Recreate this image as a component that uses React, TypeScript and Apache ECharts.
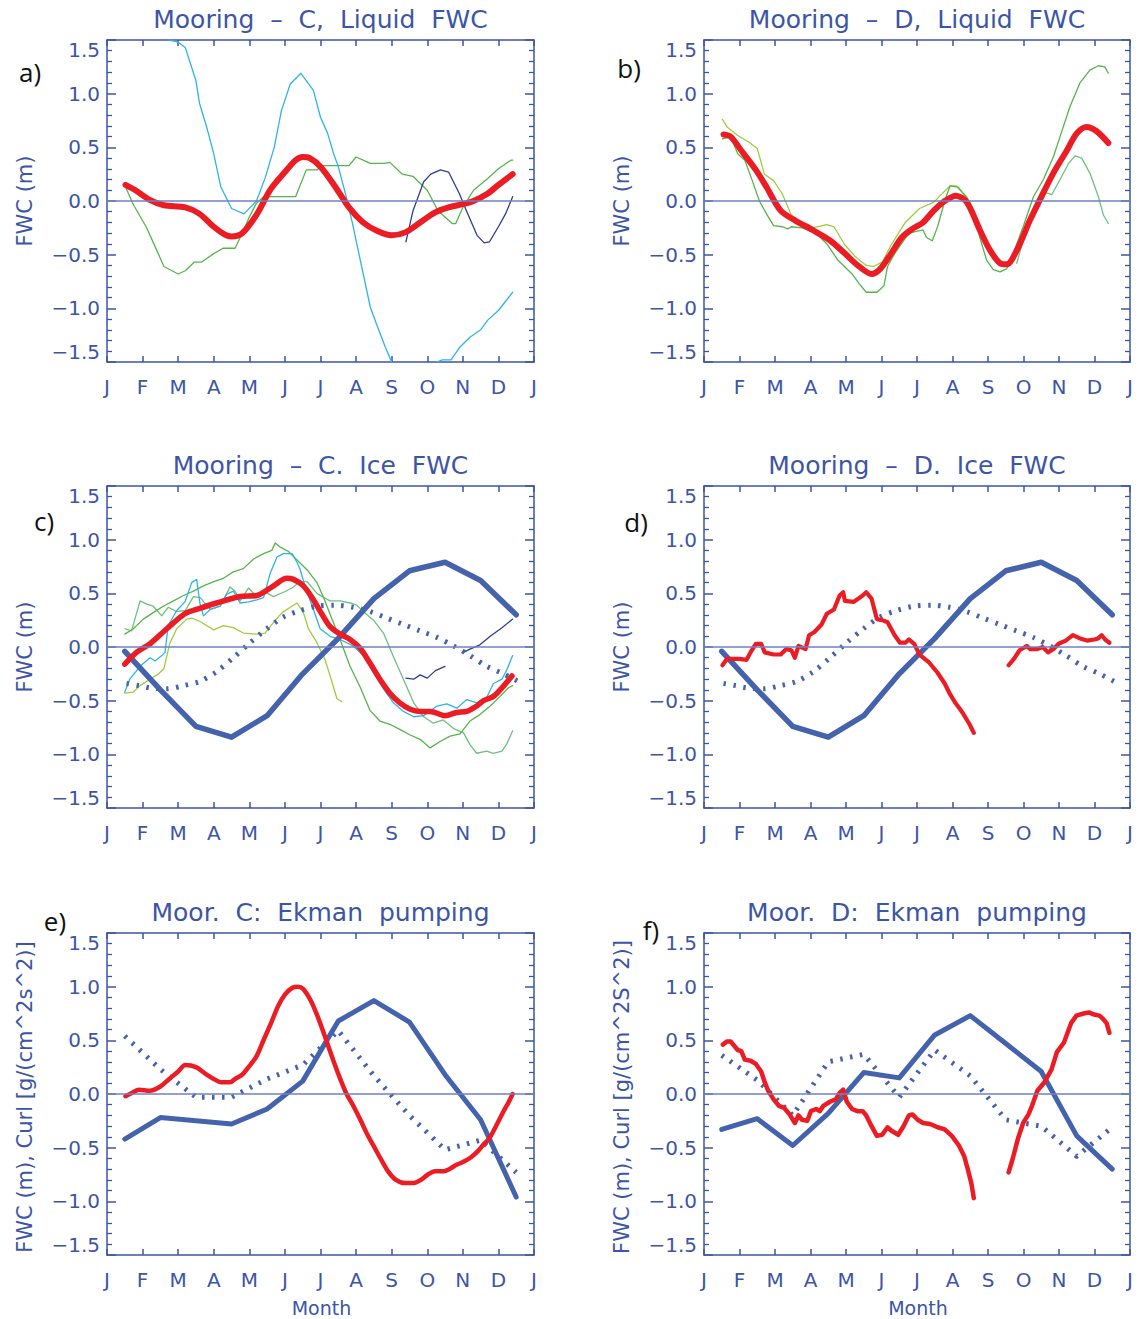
import React, { useEffect, useRef } from "react";
import * as echarts from "echarts";

// ---------- tick labels ----------
const MONTH_LABELS = ["J", "F", "M", "A", "M", "J", "J", "A", "S", "O", "N", "D", "J"];
const MONTH_POS = [0.5, 1.5, 2.5, 3.5, 4.5, 5.5, 6.5, 7.5, 8.5, 9.5, 10.5, 11.5];

// ---------- panel a: Mooring C liquid FWC ----------
const aRed = [[0.52,0.15],[0.8,0.1],[1.2,0.01],[1.6,-0.04],[2.2,-0.06],[2.6,-0.12],[3.0,-0.24],[3.3,-0.31],[3.5,-0.33],[3.8,-0.3],[4.2,-0.13],[4.6,0.11],[5.0,0.27],[5.3,0.38],[5.5,0.41],[5.7,0.4],[6.0,0.32],[6.4,0.14],[6.8,-0.06],[7.2,-0.2],[7.6,-0.28],[8.0,-0.32],[8.4,-0.29],[8.8,-0.2],[9.2,-0.11],[9.6,-0.06],[10.0,-0.03],[10.3,0.0],[10.7,0.07],[11.0,0.15],[11.4,0.25]];
const aCyan = [[1.6,1.56],[1.75,1.5],[2.0,1.48],[2.2,1.43],[2.5,1.12],[2.6,0.91],[2.8,0.69],[3.0,0.44],[3.2,0.13],[3.5,-0.07],[3.85,-0.12],[4.2,0.0],[4.45,0.22],[4.7,0.5],[4.9,0.84],[5.15,1.09],[5.45,1.19],[5.8,1.03],[6.0,0.78],[6.2,0.63],[6.37,0.44],[6.5,0.32],[6.7,0.07],[6.9,-0.21],[7.2,-0.68],[7.4,-0.99],[7.6,-1.17],[7.82,-1.36],[8.0,-1.5],[8.3,-1.65],[8.9,-1.75],[9.27,-1.5],[9.42,-1.48],[9.67,-1.48],[9.92,-1.36],[10.2,-1.27],[10.5,-1.2],[10.7,-1.11],[11.0,-1.02],[11.4,-0.85]];
const aGreen = [[0.52,0.13],[0.75,-0.04],[1.1,-0.24],[1.4,-0.46],[1.6,-0.61],[2.0,-0.68],[2.2,-0.65],[2.45,-0.57],[2.65,-0.57],[3.0,-0.49],[3.26,-0.44],[3.6,-0.44],[3.8,-0.3],[4.0,-0.15],[4.2,-0.02],[4.4,0.04],[5.3,0.04],[5.6,0.29],[5.9,0.29],[6.07,0.33],[6.8,0.33],[7.0,0.41],[7.4,0.35],[7.8,0.35],[7.95,0.36],[8.3,0.25],[8.6,0.23],[9.0,0.1],[9.3,-0.09],[9.7,-0.21],[9.8,-0.21],[10.0,-0.06],[10.3,0.1],[10.7,0.21],[11.0,0.3],[11.35,0.38],[11.4,0.38]];
const aNavy = [[8.4,-0.38],[8.6,-0.09],[8.9,0.18],[9.1,0.25],[9.37,0.29],[9.6,0.27],[9.9,0.07],[10.1,-0.09],[10.4,-0.32],[10.6,-0.39],[10.75,-0.38],[11.0,-0.24],[11.2,-0.12],[11.4,0.04]];

// ---------- panel b: Mooring D liquid FWC ----------
const bRed = [[0.55,0.62],[0.75,0.6],[1.05,0.47],[1.46,0.29],[1.76,0.13],[2.16,-0.09],[2.56,-0.18],[3.06,-0.27],[3.56,-0.37],[3.97,-0.49],[4.37,-0.61],[4.72,-0.68],[4.97,-0.63],[5.27,-0.49],[5.57,-0.34],[5.87,-0.26],[6.17,-0.2],[6.47,-0.09],[6.78,0.0],[7.1,0.05],[7.4,-0.01],[7.77,-0.27],[8.06,-0.46],[8.34,-0.58],[8.53,-0.59],[8.81,-0.46],[9.18,-0.18],[9.46,0.01],[9.84,0.26],[10.22,0.47],[10.5,0.63],[10.78,0.69],[11.06,0.65],[11.39,0.54]];
const bGreen = [[0.52,0.58],[0.75,0.6],[0.95,0.44],[1.15,0.38],[1.36,0.19],[1.56,0.0],[1.76,-0.12],[1.96,-0.23],[2.21,-0.24],[2.36,-0.26],[2.46,-0.24],[2.76,-0.25],[3.16,-0.3],[3.46,-0.4],[3.77,-0.55],[4.17,-0.68],[4.37,-0.77],[4.57,-0.85],[4.87,-0.85],[5.07,-0.79],[5.17,-0.61],[5.37,-0.49],[5.77,-0.3],[6.17,-0.27],[6.27,-0.34],[6.43,-0.37],[6.58,-0.24],[6.78,0.0],[6.93,0.14],[7.16,0.13],[7.4,0.03],[7.59,-0.12],[7.77,-0.34],[7.96,-0.55],[8.15,-0.64],[8.34,-0.66],[8.53,-0.63],[8.71,-0.49],[8.99,-0.24],[9.28,0.04],[9.56,0.2],[9.84,0.41],[10.03,0.6],[10.31,0.88],[10.59,1.1],[10.87,1.22],[11.11,1.26],[11.29,1.25],[11.39,1.19]];
const bYellow = [[0.52,0.76],[0.65,0.69],[0.95,0.61],[1.26,0.55],[1.5,0.49],[1.7,0.25],[1.96,0.19],[2.2,0.07],[2.46,-0.13],[2.76,-0.21],[3.06,-0.25],[3.46,-0.22],[3.66,-0.24],[3.97,-0.41],[4.27,-0.52],[4.57,-0.6],[4.77,-0.61],[5.02,-0.57],[5.27,-0.41],[5.67,-0.2],[6.07,-0.07],[6.48,-0.01],[6.65,0.05],[6.93,0.14],[7.1,0.14],[7.4,0.04],[7.6,-0.09]];
const bTeal = [[8.81,-0.58],[9.1,-0.24],[9.37,0.0],[9.56,0.08],[9.7,0.07],[9.8,0.06],[10.03,0.2],[10.27,0.35],[10.45,0.42],[10.64,0.4],[10.87,0.26],[11.11,0.04],[11.25,-0.13],[11.39,-0.21]];

// ---------- panels c, d: ice FWC (shared blue curves) ----------
const iceSolid = [-0.04, -0.40, -0.74, -0.84, -0.64, -0.25, 0.08, 0.45, 0.71, 0.79, 0.62, 0.30];
const iceDot = [[0.55,-0.34],[0.9,-0.36],[1.2,-0.38],[1.68,-0.39],[2.15,-0.36],[2.61,-0.32],[3.08,-0.23],[3.55,-0.1],[4.02,0.04],[4.49,0.17],[4.96,0.28],[5.43,0.34],[5.9,0.38],[6.4,0.39],[6.92,0.37],[7.39,0.33],[7.86,0.27],[8.33,0.21],[8.8,0.15],[9.27,0.09],[9.74,0.01],[10.2,-0.08],[10.67,-0.18],[11.14,-0.25],[11.55,-0.32]];

const cRed = [[0.5,-0.16],[0.83,-0.05],[1.21,0.03],[1.68,0.17],[2.19,0.31],[2.61,0.36],[3.08,0.41],[3.74,0.47],[4.21,0.48],[4.68,0.57],[5.05,0.64],[5.24,0.63],[5.52,0.57],[5.8,0.44],[6.05,0.3],[6.27,0.19],[6.55,0.12],[6.83,0.07],[7.11,-0.01],[7.39,-0.15],[7.67,-0.3],[7.95,-0.43],[8.23,-0.52],[8.52,-0.58],[8.8,-0.6],[9.08,-0.6],[9.5,-0.64],[9.83,-0.61],[10.11,-0.6],[10.39,-0.55],[10.58,-0.5],[10.86,-0.46],[11.1,-0.38],[11.38,-0.27]];
const cCyan = [[0.5,-0.42],[0.64,-0.3],[0.93,-0.18],[1.21,-0.1],[1.35,-0.13],[1.54,-0.08],[1.63,-0.05],[1.72,0.2],[1.96,0.34],[2.19,0.42],[2.38,0.6],[2.52,0.63],[2.61,0.41],[2.71,0.29],[2.9,0.35],[3.18,0.38],[3.36,0.49],[3.55,0.52],[3.74,0.41],[3.98,0.42],[4.21,0.44],[4.4,0.46],[4.59,0.69],[4.78,0.84],[4.96,0.87],[5.2,0.87],[5.34,0.79],[5.43,0.72],[5.57,0.56],[5.8,0.35],[5.99,0.17],[6.27,0.1],[6.55,0.07],[6.92,0.01],[7.2,-0.08],[7.49,-0.24],[7.77,-0.39],[8.05,-0.52],[8.33,-0.6],[8.62,-0.65],[8.9,-0.64],[9.27,-0.55],[9.55,-0.53],[9.83,-0.57],[10.11,-0.49],[10.39,-0.52],[10.67,-0.47],[10.86,-0.34],[11.1,-0.3],[11.24,-0.21],[11.4,-0.08]];
const cGreen = [[0.5,0.12],[0.74,0.17],[1.02,0.26],[1.3,0.32],[1.58,0.38],[1.87,0.43],[2.15,0.48],[2.43,0.52],[2.71,0.57],[3.0,0.61],[3.27,0.64],[3.55,0.7],[3.83,0.73],[4.12,0.82],[4.4,0.87],[4.63,0.9],[4.73,0.97],[4.87,0.93],[5.1,0.89],[5.34,0.81],[5.62,0.72],[5.9,0.6],[6.1,0.45],[6.3,0.28],[6.55,0.07],[6.83,-0.18],[7.11,-0.37],[7.39,-0.59],[7.67,-0.69],[7.95,-0.72],[8.24,-0.77],[8.52,-0.82],[8.8,-0.86],[9.08,-0.94],[9.36,-0.88],[9.64,-0.83],[9.92,-0.81],[10.2,-0.69],[10.48,-0.63],[10.77,-0.55],[11.05,-0.46],[11.28,-0.38],[11.4,-0.36]];
const cTeal = [[0.5,0.17],[0.69,0.15],[0.93,0.43],[1.12,0.4],[1.3,0.38],[1.54,0.29],[1.72,0.37],[1.96,0.33],[2.2,0.34],[2.43,0.47],[2.62,0.46],[2.9,0.35],[3.18,0.38],[3.46,0.56],[3.6,0.52],[3.74,0.43],[3.98,0.55],[4.2,0.47],[4.4,0.52],[4.68,0.47],[4.96,0.51],[5.2,0.55],[5.43,0.61],[5.62,0.61],[5.9,0.5],[6.1,0.46],[6.27,0.43],[6.55,0.43],[6.83,0.41],[7.02,0.39],[7.2,0.33],[7.49,0.25],[7.77,0.13],[8.05,-0.09],[8.33,-0.3],[8.62,-0.52],[8.9,-0.65],[9.17,-0.71],[9.45,-0.68],[9.74,-0.76],[10.02,-0.8],[10.2,-0.91],[10.39,-0.99],[10.67,-0.97],[10.86,-0.99],[11.1,-0.97],[11.24,-0.9],[11.4,-0.78]];
const cYellow = [[0.5,-0.43],[0.74,-0.42],[0.93,-0.36],[1.21,-0.3],[1.45,-0.25],[1.6,-0.2],[1.77,0.04],[1.96,0.17],[2.24,0.26],[2.38,0.27],[2.6,0.24],[3.0,0.16],[3.27,0.2],[3.55,0.18],[3.83,0.13],[4.21,0.12],[4.44,0.13],[4.68,0.23],[4.92,0.32],[5.15,0.37],[5.34,0.41],[5.52,0.32],[5.66,0.17],[5.9,0.04],[6.13,-0.12],[6.3,-0.3],[6.46,-0.48],[6.6,-0.51]];
const cNavyA = [[8.4,-0.29],[8.62,-0.3],[8.8,-0.26],[9.0,-0.29],[9.23,-0.22],[9.5,-0.18]];
const cNavyB = [[10.02,-0.05],[10.2,-0.02],[10.48,0.02],[10.77,0.1],[11.1,0.18],[11.4,0.26]];

const dRedA = [[0.52,-0.17],[0.65,-0.11],[0.85,-0.11],[1.0,-0.11],[1.2,-0.12],[1.31,-0.05],[1.46,0.03],[1.61,0.03],[1.71,-0.05],[1.96,-0.07],[2.16,-0.07],[2.31,-0.02],[2.46,-0.03],[2.56,-0.1],[2.66,0.01],[2.86,-0.02],[2.96,0.11],[3.11,0.14],[3.31,0.21],[3.46,0.31],[3.66,0.35],[3.82,0.48],[3.92,0.51],[3.97,0.43],[4.22,0.42],[4.47,0.48],[4.57,0.51],[4.72,0.45],[4.87,0.26],[5.02,0.25],[5.17,0.23],[5.37,0.11],[5.52,0.04],[5.67,0.04],[5.77,0.07],[5.92,0.03],[6.07,-0.07],[6.33,-0.14],[6.58,-0.24],[6.78,-0.34],[6.93,-0.44],[7.08,-0.52],[7.28,-0.61],[7.48,-0.72],[7.6,-0.8]];
const dRedB = [[8.58,-0.17],[8.73,-0.11],[8.89,-0.03],[9.09,0.01],[9.19,-0.02],[9.39,-0.02],[9.54,0.0],[9.69,-0.05],[9.84,-0.02],[9.99,0.03],[10.19,0.06],[10.39,0.11],[10.59,0.08],[10.79,0.06],[11.0,0.07],[11.1,0.08],[11.2,0.11],[11.3,0.07],[11.42,0.04]];

// ---------- panels e, f: Ekman pumping ----------
const eRed = [[0.52,-0.02],[0.7,0.01],[0.9,0.04],[1.2,0.03],[1.5,0.07],[1.75,0.14],[2.0,0.21],[2.2,0.27],[2.5,0.25],[2.8,0.18],[3.0,0.14],[3.2,0.11],[3.46,0.11],[3.6,0.14],[3.8,0.18],[4.0,0.26],[4.2,0.35],[4.41,0.51],[4.61,0.66],[4.81,0.82],[5.01,0.93],[5.21,0.99],[5.36,1.0],[5.51,0.98],[5.71,0.88],[5.91,0.73],[6.12,0.54],[6.32,0.35],[6.52,0.17],[6.72,0.01],[6.92,-0.11],[7.12,-0.24],[7.32,-0.38],[7.52,-0.5],[7.72,-0.62],[7.92,-0.73],[8.12,-0.8],[8.37,-0.83],[8.62,-0.83],[8.82,-0.8],[9.02,-0.75],[9.22,-0.72],[9.47,-0.72],[9.62,-0.7],[9.82,-0.66],[10.03,-0.63],[10.23,-0.59],[10.43,-0.53],[10.58,-0.47],[10.73,-0.42],[10.93,-0.3],[11.13,-0.17],[11.28,-0.08],[11.4,0.0]];
const eSolid = [-0.42, -0.22, -0.25, -0.28, -0.14, 0.12, 0.68, 0.87, 0.67, 0.18, -0.24, -0.96];
const eDot = [0.54, 0.23, -0.03, -0.03, 0.14, 0.27, 0.59, 0.17, -0.2, -0.52, -0.43, -0.73];

const fRedA = [[0.53,0.46],[0.65,0.49],[0.75,0.49],[0.85,0.45],[0.95,0.41],[1.05,0.4],[1.15,0.32],[1.31,0.31],[1.46,0.28],[1.61,0.21],[1.71,0.11],[1.81,0.03],[1.96,-0.05],[2.11,-0.11],[2.26,-0.13],[2.41,-0.19],[2.56,-0.27],[2.66,-0.2],[2.76,-0.24],[2.91,-0.25],[3.01,-0.16],[3.16,-0.14],[3.26,-0.16],[3.36,-0.11],[3.56,-0.07],[3.71,-0.05],[3.82,0.01],[3.92,0.04],[4.02,-0.07],[4.17,-0.14],[4.32,-0.16],[4.47,-0.16],[4.57,-0.2],[4.72,-0.3],[4.87,-0.39],[5.02,-0.38],[5.17,-0.31],[5.27,-0.34],[5.47,-0.38],[5.62,-0.3],[5.77,-0.2],[5.87,-0.19],[6.02,-0.24],[6.17,-0.27],[6.37,-0.28],[6.58,-0.31],[6.78,-0.33],[6.98,-0.39],[7.18,-0.48],[7.33,-0.58],[7.43,-0.7],[7.53,-0.83],[7.6,-0.97]];
const fRedB = [[8.58,-0.73],[8.69,-0.61],[8.84,-0.42],[8.99,-0.27],[9.14,-0.19],[9.24,-0.11],[9.39,0.03],[9.59,0.11],[9.79,0.23],[9.94,0.39],[10.14,0.48],[10.34,0.66],[10.49,0.73],[10.69,0.75],[10.84,0.76],[10.99,0.74],[11.14,0.73],[11.24,0.7],[11.34,0.66],[11.42,0.57]];
const fSolid = [-0.33, -0.23, -0.48, -0.18, 0.2, 0.15, 0.55, 0.73, 0.47, 0.21, -0.39, -0.7];
const fDot = [0.36, 0.13, -0.2, 0.3, 0.37, -0.03, 0.41, 0.17, -0.24, -0.3, -0.58, -0.31];

// ---------- text ----------
const TITLES = [
  "Mooring  \u2013  C,  Liquid  FWC",
  "Mooring  \u2013  D,  Liquid  FWC",
  "Mooring  \u2013  C.  Ice  FWC",
  "Mooring  \u2013  D.  Ice  FWC",
  "Moor.  C:  Ekman  pumping",
  "Moor.  D:  Ekman  pumping",
];
const PANEL_LETTERS = ["a)", "b)", "c)", "d)", "e)", "f)"];
const Y_NAMES = ["FWC (m)", "FWC (m)", "FWC (m)", "FWC (m)", "FWC (m), Curl [g/(cm^2s^2)]", "FWC (m), Curl [g/(cm^2S^2)]"];
const X_NAME = "Month";

// ---------- style / layout ----------
const AX = "#3d55a5";
const ZERO = "#6f82c3";
const RED = "#ec1c24";
const BLUE = "#4563ad";
const CYAN = "#2fb3e6";
const GREEN = "#57b44c";
const TEAL = "#6ec07e";
const YELLOW = "#9fcb3f";
const NAVY = "#2e3d8f";
const FONT = '"DejaVu Sans", Verdana, sans-serif';
const LETTER_FONT = '"Open Sans", "Noto Sans", sans-serif';

const COL_LEFT = [107, 704];
const COL_W = [427, 426];
const ROW_TOP = [40, 486, 933];
const PLOT_H = 322;
const LETTER_POS = [[30, 72], [629, 68], [44, 521], [636, 522], [55, 921], [651, 930]];

const withMonths = (vals: number[]) => vals.map((v, i) => [MONTH_POS[i], v]);

function fmtY(v: number) {
  const s = Math.abs(v).toFixed(1);
  return v < -1e-9 ? "\u2212" + s : s;
}

export default function App() {
  const ref = useRef<HTMLDivElement>(null);

  useEffect(() => {
    document.body.style.margin = "0";
    const chart = echarts.init(ref.current!, undefined, { renderer: "svg" });

    const grids: any[] = [];
    const xAxes: any[] = [];
    const yAxes: any[] = [];
    const tickStyle = { color: AX, width: 1.5 };
    for (let g = 0; g < 6; g++) {
      const col = g % 2;
      const row = Math.floor(g / 2);
      grids.push({ left: COL_LEFT[col], top: ROW_TOP[row], width: COL_W[col], height: PLOT_H, containLabel: false });
      const xBase = {
        type: "value", gridIndex: g, min: 0, max: 12, interval: 1,
        axisLine: { show: true, onZero: false, lineStyle: tickStyle },
        axisTick: { show: true, inside: true, length: 6, lineStyle: tickStyle },
        splitLine: { show: false },
      };
      xAxes.push({
        ...xBase, position: "bottom",
        axisLabel: {
          show: true, showMinLabel: true, showMaxLabel: true,
          formatter: (v: number) => MONTH_LABELS[Math.round(v)],
          color: AX, fontFamily: FONT, fontSize: 20, margin: 15,
        },
      });
      xAxes.push({ ...xBase, position: "top", axisLabel: { show: false } });
      const yBase = {
        type: "value", gridIndex: g, min: -1.5, max: 1.5, interval: 0.5,
        axisLine: { show: true, onZero: false, lineStyle: tickStyle },
        axisTick: { show: true, inside: true, length: 9, lineStyle: tickStyle },
        minorTick: { show: true, splitNumber: 5, length: 5, lineStyle: { color: AX, width: 1.3 } },
        splitLine: { show: false },
        minorSplitLine: { show: false },
      };
      yAxes.push({
        ...yBase, position: "left",
        axisLabel: {
          show: true, showMinLabel: true, showMaxLabel: true,
          formatter: fmtY, color: AX, fontFamily: FONT, fontSize: 20, margin: 7,
          verticalAlignMaxLabel: "top", verticalAlignMinLabel: "bottom",
        },
      });
      yAxes.push({ ...yBase, position: "right", axisLabel: { show: false } });
    }

    const zeroMark = {
      silent: true, symbol: ["none", "none"], label: { show: false }, animation: false,
      lineStyle: { color: ZERO, width: 1.5, type: "solid" },
      data: [{ yAxis: 0 }],
    };
    const line = (g: number, data: any[], color: string, width: number, extra: any = {}) => ({
      type: "line", xAxisIndex: 2 * g, yAxisIndex: 2 * g, data, symbol: "none", silent: true,
      clip: true, animation: false,
      lineStyle: { color, width, cap: "round", join: "round", ...(extra.lineStyle || {}) },
      ...Object.fromEntries(Object.entries(extra).filter(([k]) => k !== "lineStyle")),
    });
    const dotted = { lineStyle: { type: [2.5, 7.5], cap: "butt" } };

    const series: any[] = [
      // a
      line(0, aGreen, GREEN, 1.3, { markLine: zeroMark }),
      line(0, aCyan, CYAN, 1.3),
      line(0, aNavy, NAVY, 1.3),
      line(0, aRed, RED, 6, { smooth: 0.3 }),
      // b
      line(1, bYellow, YELLOW, 1.3, { markLine: zeroMark }),
      line(1, bGreen, GREEN, 1.3),
      line(1, bTeal, TEAL, 1.3),
      line(1, bRed, RED, 6, { smooth: 0.3 }),
      // c
      line(2, cYellow, YELLOW, 1.3, { markLine: zeroMark }),
      line(2, cTeal, TEAL, 1.3),
      line(2, cGreen, GREEN, 1.3),
      line(2, cCyan, CYAN, 1.3),
      line(2, cNavyA, NAVY, 1.3),
      line(2, cNavyB, NAVY, 1.3),
      line(2, withMonths(iceSolid), BLUE, 5.5),
      line(2, iceDot, BLUE, 5, { ...dotted, smooth: 0.3 }),
      line(2, cRed, RED, 5.5, { smooth: 0.3 }),
      // d
      line(3, withMonths(iceSolid), BLUE, 5.5, { markLine: zeroMark }),
      line(3, iceDot, BLUE, 5, { ...dotted, smooth: 0.3 }),
      line(3, dRedA, RED, 4.2),
      line(3, dRedB, RED, 4.2),
      // e
      line(4, withMonths(eSolid), BLUE, 5, { markLine: zeroMark }),
      line(4, withMonths(eDot), BLUE, 5, dotted),
      line(4, eRed, RED, 4.5, { smooth: 0.3 }),
      // f
      line(5, withMonths(fSolid), BLUE, 5, { markLine: zeroMark }),
      line(5, withMonths(fDot), BLUE, 5, dotted),
      line(5, fRedA, RED, 4.5),
      line(5, fRedB, RED, 4.5),
    ];

    const elements: any[] = [];
    for (let g = 0; g < 6; g++) {
      const col = g % 2;
      const row = Math.floor(g / 2);
      const cx = COL_LEFT[col] + COL_W[col] / 2;
      const top = ROW_TOP[row];
      elements.push({
        type: "text", x: cx, y: top - 21, silent: true,
        style: { text: TITLES[g], fill: AX, fontFamily: FONT, fontSize: 25, align: "center", verticalAlign: "middle" },
      });
      elements.push({
        type: "text", x: LETTER_POS[g][0], y: LETTER_POS[g][1], silent: true,
        style: { text: PANEL_LETTERS[g], fill: "#111", fontFamily: LETTER_FONT, fontSize: 26, align: "center", verticalAlign: "middle" },
      });
      elements.push({
        type: "text", x: COL_LEFT[col] - 82, y: top + PLOT_H / 2 + (row === 2 ? 3 : 0), rotation: Math.PI / 2, silent: true,
        style: { text: Y_NAMES[g], fill: AX, fontFamily: FONT, fontSize: 21, align: "center", verticalAlign: "middle" },
      });
      if (row === 2) {
        elements.push({
          type: "text", x: cx + 1, y: top + PLOT_H + 53, silent: true,
          style: { text: X_NAME, fill: AX, fontFamily: FONT, fontSize: 19, align: "center", verticalAlign: "middle" },
        });
      }
    }

    chart.setOption({
      animation: false,
      backgroundColor: "#ffffff",
      grid: grids,
      xAxis: xAxes,
      yAxis: yAxes,
      series,
      graphic: { elements },
    });
    return () => chart.dispose();
  }, []);

  return <div ref={ref} style={{ position: "absolute", left: 0, top: 0, width: 1140, height: 1319, background: "#fff" }} />;
}
